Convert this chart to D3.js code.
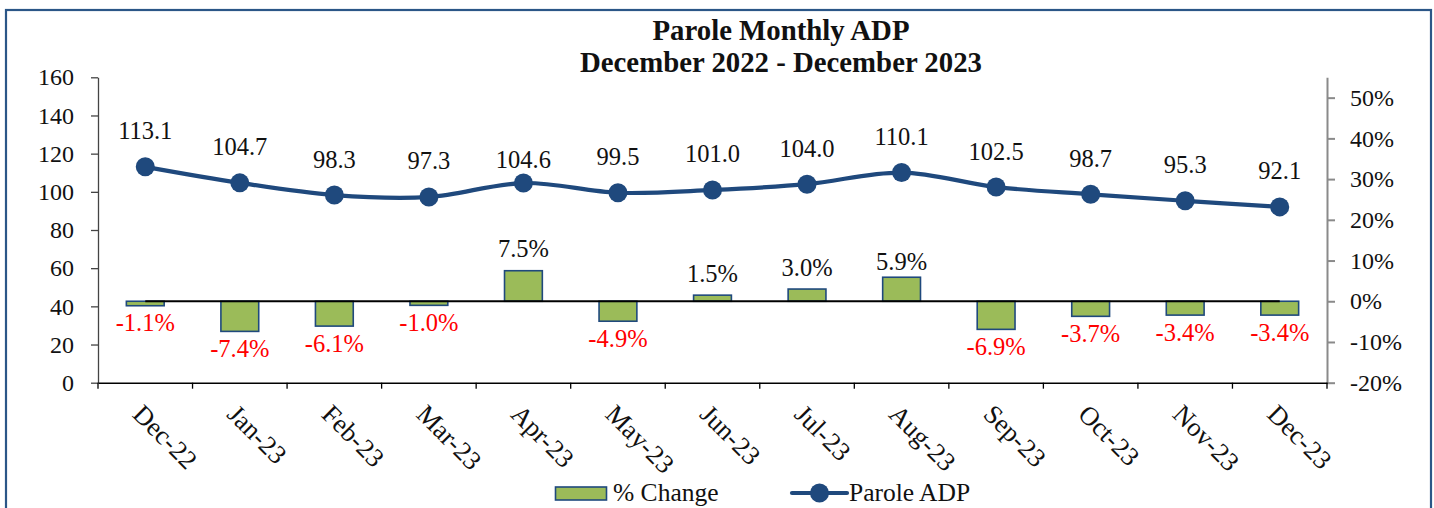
<!DOCTYPE html>
<html>
<head>
<meta charset="utf-8">
<script src="https://cdn.jsdelivr.net/npm/d3@7"></script>
<style>
  html, body { margin: 0; padding: 0; background: #fff; }
  svg { display: block; }
  text { font-family: "Liberation Serif", "DejaVu Serif", serif; fill: #111; }
</style>
</head>
<body>
<svg id="chart" width="1434" height="508"></svg>
<script>
// ---- data ----
const categories = ["Dec-22","Jan-23","Feb-23","Mar-23","Apr-23","May-23","Jun-23","Jul-23","Aug-23","Sep-23","Oct-23","Nov-23","Dec-23"];
const paroleADP = [113.1,104.7,98.3,97.3,104.6,99.5,101.0,104.0,110.1,102.5,98.7,95.3,92.1];
const pctChange = [-1.1,-7.4,-6.1,-1.0,7.5,-4.9,1.5,3.0,5.9,-6.9,-3.7,-3.4,-3.4];
const leftTicks = [0,20,40,60,80,100,120,140,160];
const rightTicks = [-20,-10,0,10,20,30,40,50];
const titleLines = ["Parole Monthly ADP", "December 2022 - December 2023"];
const legendLabels = ["% Change", "Parole ADP"];

// ---- styles / layout ----
const blue = "#1F497D";
const green = "#9BBB59";
const plot = { left: 98, right: 1327, top: 77.3, bottom: 382.7 };

const svg = d3.select("#chart");

// outer border
svg.append("rect")
  .attr("x", 6).attr("y", 10).attr("width", 1425).attr("height", 520)
  .attr("fill", "none").attr("stroke", "#2B5687").attr("stroke-width", 2.2);

// title
svg.append("g").selectAll("text").data(titleLines).join("text")
  .attr("x", 781).attr("y", (d, i) => 40 + i * 31.5)
  .attr("text-anchor", "middle")
  .style("font-size", "28.8px").style("font-weight", "bold")
  .text(d => d);

// scales
const x = d3.scaleBand().domain(categories).range([plot.left, plot.right]).padding(0);
const yL = d3.scaleLinear().domain([0, 160]).range([plot.bottom, plot.top]);
const yR = d3.scaleLinear().domain([-20, 55]).range([plot.bottom, plot.top]);
const cx = c => x(c) + x.bandwidth() / 2;
const barW = x.bandwidth() / 2.5;

// bars (% change)
svg.append("g").selectAll("rect").data(categories).join("rect")
  .attr("x", c => cx(c) - barW / 2)
  .attr("width", barW)
  .attr("y", (c, i) => Math.min(yR(pctChange[i]), yR(0)))
  .attr("height", (c, i) => Math.abs(yR(pctChange[i]) - yR(0)))
  .attr("fill", green).attr("stroke", blue).attr("stroke-width", 1.6);

// zero line (center of first to center of last category)
svg.append("line")
  .attr("x1", cx(categories[0])).attr("x2", cx(categories[categories.length - 1]))
  .attr("y1", yR(0)).attr("y2", yR(0))
  .attr("stroke", "#000").attr("stroke-width", 2.2);

// axes
const gL = svg.append("g").attr("transform", `translate(${plot.left},0)`)
  .call(d3.axisLeft(yL).tickValues(leftTicks).tickSize(7).tickSizeOuter(0).tickPadding(17));
gL.selectAll("path, line").attr("stroke", "#444").attr("stroke-width", 1.3);
gL.selectAll("text").style("font-size", "24px").style("font-family", "Liberation Serif").attr("fill", "#111");

const gR = svg.append("g").attr("transform", `translate(${plot.right},0)`)
  .call(d3.axisRight(yR).tickValues(rightTicks).tickSize(8).tickSizeOuter(0).tickPadding(15).tickFormat(d => d + "%"));
gR.selectAll("path, line").attr("stroke", "#8A8A8A").attr("stroke-width", 2);
gR.selectAll("text").style("font-size", "24px").style("font-family", "Liberation Serif").attr("fill", "#111");

// bottom axis: line, boundary ticks, rotated labels
const gB = svg.append("g").attr("transform", `translate(0,${plot.bottom})`)
  .call(d3.axisBottom(x).tickSize(0).tickSizeOuter(0).tickPadding(0));
gB.select("path").attr("stroke", "#000").attr("stroke-width", 1.5);
gB.selectAll(".tick text")
  .attr("x", 0).attr("y", 0).attr("dy", 0)
  .attr("text-anchor", "start")
  .attr("transform", "translate(-14,33) rotate(45)")
  .style("font-size", "26.5px").style("font-family", "Liberation Serif").attr("fill", "#111");
const bounds = categories.map(c => x(c)).concat([plot.right]);
gB.append("g").selectAll("line").data(bounds).join("line")
  .attr("x1", d => d).attr("x2", d => d).attr("y1", 0).attr("y2", 6)
  .attr("stroke", "#000").attr("stroke-width", 1.3);

// ADP line
const line = d3.line()
  .x((d, i) => cx(categories[i]))
  .y(d => yL(d))
  .curve(d3.curveCatmullRom.alpha(0.5));
svg.append("path").datum(paroleADP)
  .attr("d", line).attr("fill", "none")
  .attr("stroke", blue).attr("stroke-width", 4.2).attr("stroke-linejoin", "round");
svg.append("g").selectAll("circle").data(paroleADP).join("circle")
  .attr("cx", (d, i) => cx(categories[i])).attr("cy", d => yL(d))
  .attr("r", 9.5).attr("fill", blue);

// ADP labels
const adpLift = i => (i === 4 ? 15.5 : 27.5);
svg.append("g").selectAll("text").data(paroleADP).join("text")
  .attr("x", (d, i) => cx(categories[i]))
  .attr("y", (d, i) => yL(d) - adpLift(i))
  .attr("text-anchor", "middle")
  .style("font-size", "24.5px")
  .text(d => d.toFixed(1));

// % labels
svg.append("g").selectAll("text").data(pctChange).join("text")
  .attr("x", (d, i) => cx(categories[i]))
  .attr("y", (d, i) => d >= 0 ? yR(d) - (i === 8 ? 7.5 : 13.5) : yR(d) + 25.5)
  .attr("text-anchor", "middle")
  .style("font-size", "24.5px")
  .style("fill", d => d >= 0 ? "#111" : "#FF0000")
  .text(d => d.toFixed(1) + "%");

// legend
const lg = svg.append("g");
lg.append("rect").attr("x", 555.5).attr("y", 487).attr("width", 51).attr("height", 13)
  .attr("fill", green).attr("stroke", blue).attr("stroke-width", 1.6);
lg.append("text").attr("x", 613).attr("y", 501).style("font-size", "25.5px").text(legendLabels[0]);
lg.append("line").attr("x1", 792).attr("x2", 847).attr("y1", 493).attr("y2", 493)
  .attr("stroke", blue).attr("stroke-width", 4.2).attr("stroke-linecap", "round");
lg.append("circle").attr("cx", 819.5).attr("cy", 493).attr("r", 9.5).attr("fill", blue);
lg.append("text").attr("x", 849).attr("y", 501).style("font-size", "25.5px").text(legendLabels[1]);
</script>
</body>
</html>
